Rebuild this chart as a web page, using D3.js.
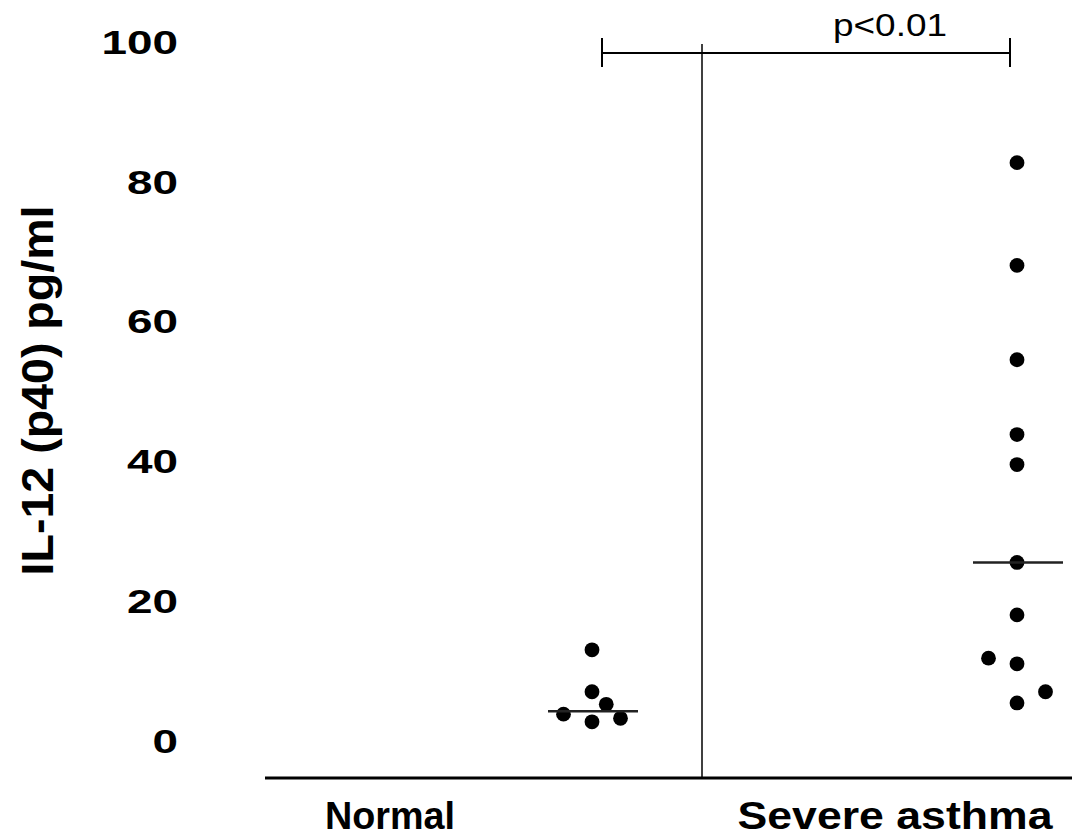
<!DOCTYPE html>
<html>
<head>
<meta charset="utf-8">
<script src="https://cdn.jsdelivr.net/npm/d3@7"></script>
<style>
  html, body { margin: 0; padding: 0; background: #fff; }
  svg { display: block; }
</style>
</head>
<body>
<svg id="chart" width="1072" height="838"></svg>
<script>
// Groups and per-subject IL-12 (p40) measurements (pg/ml)
const categories = ["Normal", "Severe asthma"];
const normalValues = [12.9, 6.9, 5.1, 3.7, 2.6, 3.1];
const severeValues = [82.6, 67.9, 54.4, 43.7, 39.4, 25.4, 17.9, 11.7, 10.9, 6.9, 5.3];
// Lateral slot of each dot within its column (dot-plot spreading of close values)
const normalSlots = [0, 0, 0.5, -1, 0, 1];
const severeSlots = [0, 0, 0, 0, 0, 0, 0, -1, 0, 1, 0];
// Median marker per group
const medians = [4.1, 25.4];
const yTicks = [0, 20, 40, 60, 80, 100];
const yLabel = "IL-12 (p40) pg/ml";
const pLabel = "p<0.01";

const groups = [
  { name: categories[0], values: normalValues, slots: normalSlots, median: medians[0] },
  { name: categories[1], values: severeValues, slots: severeSlots, median: medians[1] }
];

const svg = d3.select("#chart");
const W = 1072, H = 838;
const baselineY = 778;

const y = d3.scaleLinear().domain([0, 100]).range([740, 41]);
const xLabel = d3.scalePoint().domain(categories).range([390, 895]);
const xDots = d3.scalePoint().domain(categories).range([592, 1017]);
const slotW = 28.5;

// Y axis: labels only, no line or tick marks
const yAxis = d3.axisLeft(y).tickValues(yTicks).tickSize(0).tickPadding(0);
const gy = svg.append("g").attr("transform", "translate(178,0)").call(yAxis);
gy.select(".domain").remove();
gy.selectAll("text")
  .attr("x", 0)
  .attr("dy", "0.36em")
  .style("font-family", "'Liberation Sans', Arial, sans-serif")
  .style("font-weight", "bold")
  .style("font-size", "34px")
  .attr("fill", "#000")
  .each(function () {
    const n = this.textContent.length;
    d3.select(this).attr("textLength", n * 25.5).attr("lengthAdjust", "spacingAndGlyphs");
  });

// Y axis title
svg.append("text")
  .attr("transform", `translate(53,${y(50)}) rotate(-90)`)
  .attr("text-anchor", "middle")
  .style("font-family", "'Liberation Sans', Arial, sans-serif")
  .style("font-weight", "bold")
  .style("font-size", "44px")
  .attr("textLength", 370)
  .attr("lengthAdjust", "spacingAndGlyphs")
  .text(yLabel);

// Baseline
svg.append("line")
  .attr("x1", 265).attr("x2", W)
  .attr("y1", baselineY).attr("y2", baselineY)
  .attr("stroke", "#000").attr("stroke-width", 3);

// Divider between groups
const dividerX = 702;
svg.append("line")
  .attr("x1", dividerX).attr("x2", dividerX)
  .attr("y1", 44).attr("y2", baselineY)
  .attr("stroke", "#000").attr("stroke-width", 1.5);

// Category labels
svg.selectAll("text.cat")
  .data(categories)
  .join("text")
  .attr("class", "cat")
  .attr("x", d => xLabel(d))
  .attr("y", 829)
  .attr("text-anchor", "middle")
  .style("font-family", "'Liberation Sans', Arial, sans-serif")
  .style("font-weight", "bold")
  .style("font-size", "38px")
  .attr("textLength", (d, i) => i === 0 ? 130 : 315)
  .attr("lengthAdjust", "spacingAndGlyphs")
  .text(d => d);

// Dots
const dotData = groups.flatMap(g => g.values.map((v, i) => ({ g: g.name, v, s: g.slots[i] })));
svg.selectAll("circle.dot")
  .data(dotData)
  .join("circle")
  .attr("class", "dot")
  .attr("cx", d => xDots(d.g) + d.s * slotW)
  .attr("cy", d => y(d.v))
  .attr("r", 7.4)
  .attr("fill", "#000");

// Median lines
svg.selectAll("line.median")
  .data(groups)
  .join("line")
  .attr("class", "median")
  .attr("x1", d => xDots(d.name) - 44)
  .attr("x2", d => xDots(d.name) + 46)
  .attr("y1", d => y(d.median))
  .attr("y2", d => y(d.median))
  .attr("stroke", "#222").attr("stroke-width", 2.5);

// Significance bracket
const bx1 = xDots(categories[0]) + 10, bx2 = xDots(categories[1]) - 7, by = 53;
const br = svg.append("g").attr("stroke", "#000").attr("stroke-width", 2);
br.append("line").attr("x1", bx1).attr("x2", bx2).attr("y1", by).attr("y2", by);
br.append("line").attr("x1", bx1).attr("x2", bx1).attr("y1", 38).attr("y2", 67);
br.append("line").attr("x1", bx2).attr("x2", bx2).attr("y1", 38).attr("y2", 67);

svg.append("text")
  .attr("x", 890).attr("y", 36)
  .attr("text-anchor", "middle")
  .style("font-family", "'Liberation Sans', Arial, sans-serif")
  .style("font-size", "32px")
  .attr("textLength", 114)
  .attr("lengthAdjust", "spacingAndGlyphs")
  .text(pLabel);
</script>
</body>
</html>
